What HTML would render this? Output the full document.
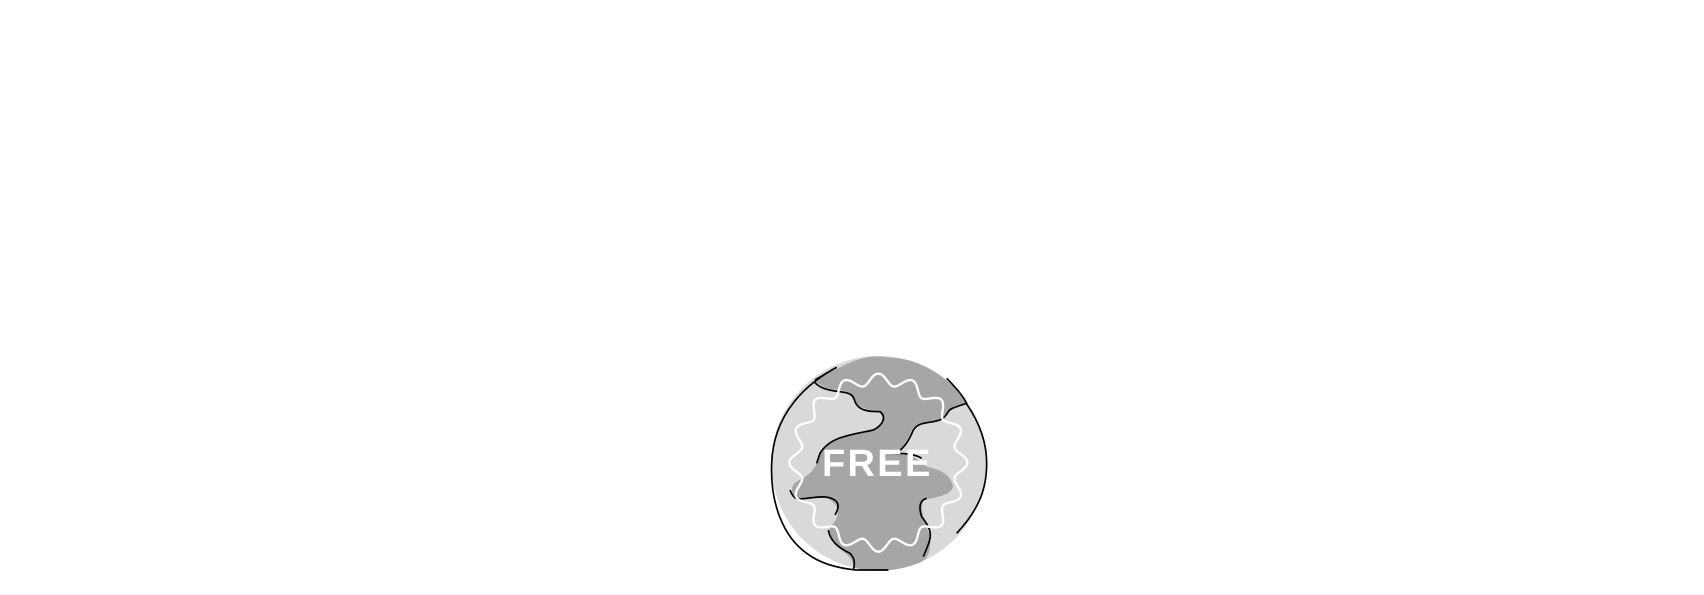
<!DOCTYPE html>
<html><head><meta charset="utf-8"><style>
html,body{margin:0;padding:0;background:#fff;width:1704px;height:595px;overflow:hidden}
svg{display:block}
</style></head><body>
<svg width="1704" height="595" viewBox="0 0 1704 595" xmlns="http://www.w3.org/2000/svg">
<defs><clipPath id="c"><circle cx="416" cy="400" r="322"/></clipPath></defs>
<g transform="translate(740,330) scale(0.33333)">
<circle cx="416" cy="400" r="322" fill="#d9d9d9"/>
<path clip-path="url(#c)" fill="#a6a6a6" d="M225,155 C300,110 360,75 420,80 C500,85 560,95 620,145 L680,220 C650,230 630,235 600,270 C560,285 530,280 515,300 C500,340 480,360 470,370 C500,370 520,375 560,410 C600,420 630,430 640,470 C630,495 600,500 550,510 C540,540 550,560 570,620 C575,660 560,690 550,690 L550,730 L340,730 C345,690 330,680 290,650 C265,620 260,600 280,580 C300,560 300,520 260,505 C230,500 200,510 170,510 C150,490 150,460 180,450 C200,440 230,420 240,370 C260,330 300,315 400,300 C440,285 430,260 420,245 C380,240 350,230 340,210 C330,180 300,180 260,175 Z"/>
<g fill="none" stroke="#000" stroke-width="5">
<path d="M222,155 C240,175 260,180 300,185 C340,190 340,200 345,215 C355,240 380,245 420,245 C440,260 430,285 400,300 C330,315 270,320 240,370 L230,400"/>
<path d="M290,112 L225,150"/>
<path d="M620,145 C650,175 670,200 680,220 C650,230 630,235 625,245 C610,270 600,270 580,275 C540,280 530,285 520,300 C505,335 495,350 470,370 C500,370 530,375 545,385"/>
<path d="M150,480 C160,505 165,510 200,505 C240,500 270,495 290,515 C300,530 290,545 285,555"/>
<path d="M560,505 C540,510 535,530 545,560 C560,580 575,600 570,625 C565,650 555,665 550,680"/>
<path d="M265,600 C270,630 290,650 330,670 C345,685 345,700 340,720"/>
<path d="M350,720 L445,720"/>
<path d="M290,112 C200,160 100,250 95,400 C90,520 130,620 200,670 C240,700 290,715 350,720"/>
<path d="M680,222 C720,280 740,340 740,400 C740,480 715,540 650,610"/>
</g>
<path id="star" fill="none" stroke="#fff" stroke-width="7"/>
<text x="412" y="438" text-anchor="middle" font-family="Liberation Sans, sans-serif" font-weight="bold" font-size="114" fill="#fff" letter-spacing="7">FREE</text>
</g>
</svg>
<script>
var p="",cx=415,cy=398;
for(var i=0;i<=720;i++){var t=i/720*2*Math.PI;var r=250+17*Math.cos(16*t);p+=(i?"L":"M")+(cx+r*Math.cos(t)).toFixed(1)+","+(cy+r*Math.sin(t)).toFixed(1);}
document.getElementById("star").setAttribute("d",p+"Z");
</script>
</body></html>
